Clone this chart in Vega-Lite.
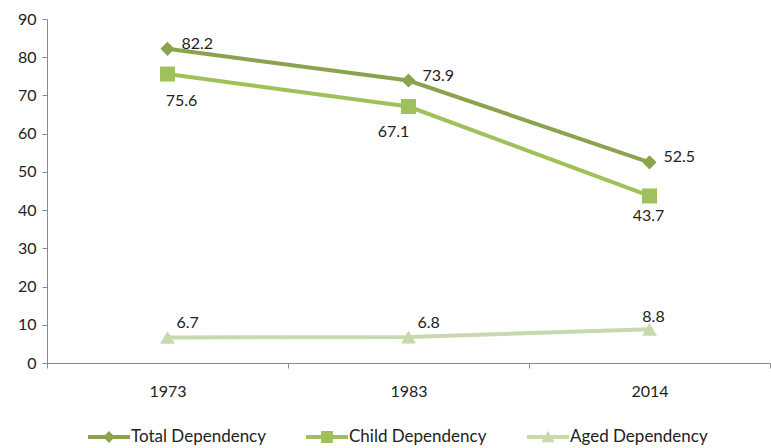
{
  "$schema": "https://vega.github.io/schema/vega-lite/v6.json",
  "width": 723,
  "height": 344,
  "autosize": "none",
  "padding": {"left": 47, "top": 19, "right": 1, "bottom": 85},
  "background": "white",
  "config": {"view": {"stroke": null}, "font": "Lato", "text": {"font": "Lato"}},
  "data": {
    "values": [
      {"year": "1973", "series": "Total Dependency", "value": 82.2},
      {"year": "1983", "series": "Total Dependency", "value": 73.9},
      {"year": "2014", "series": "Total Dependency", "value": 52.5},
      {"year": "1973", "series": "Child Dependency", "value": 75.6},
      {"year": "1983", "series": "Child Dependency", "value": 67.1},
      {"year": "2014", "series": "Child Dependency", "value": 43.7},
      {"year": "1973", "series": "Aged Dependency", "value": 6.7},
      {"year": "1983", "series": "Aged Dependency", "value": 6.8},
      {"year": "2014", "series": "Aged Dependency", "value": 8.8}
    ]
  },
  "encoding": {
    "x": {
      "field": "year", "type": "nominal", "sort": ["1973", "1983", "2014"],
      "scale": {"paddingInner": 0, "paddingOuter": 0},
      "axis": {"title": null, "labelAngle": 0, "labelFontSize": 16, "labelColor": "#222", "domainColor": "#8a8a8a", "tickColor": "#8a8a8a", "tickSize": 5, "tickBand": "extent", "labelPadding": 15}
    },
    "y": {
      "field": "value", "type": "quantitative",
      "scale": {"domain": [0, 90], "nice": false},
      "axis": {"title": null, "grid": false, "values": [0, 10, 20, 30, 40, 50, 60, 70, 80, 90], "labelFontSize": 16, "labelColor": "#222", "domainColor": "#8a8a8a", "tickColor": "#8a8a8a", "tickSize": 5, "labelPadding": 6}
    }
  },
  "resolve": {"scale": {"color": "independent", "shape": "independent"}},
  "layer": [
    {
      "mark": {"type": "line", "strokeWidth": 4},
      "encoding": {"color": {"field": "series", "type": "nominal", "scale": {"domain": ["Total Dependency", "Child Dependency", "Aged Dependency"], "range": ["#8ba24e", "#9fc05a", "#c9d9ae"]}, "legend": null}}
    },
    {
      "transform": [{"filter": "datum.series === 'Total Dependency'"}],
      "mark": {"type": "point", "shape": "diamond", "filled": true, "size": 200, "opacity": 1, "color": "#8ba24e"}
    },
    {
      "transform": [{"filter": "datum.series === 'Child Dependency'"}],
      "mark": {"type": "point", "shape": "square", "filled": true, "size": 225, "opacity": 1, "color": "#9fc05a"}
    },
    {
      "transform": [{"filter": "datum.series === 'Aged Dependency'"}],
      "mark": {"type": "point", "shape": "triangle-up", "filled": true, "size": 220, "opacity": 1, "color": "#c9d9ae"}
    },
    {
      "mark": {"type": "point", "filled": true, "opacity": 0},
      "encoding": {
        "shape": {
          "field": "series", "type": "nominal",
          "scale": {"domain": ["Total Dependency", "Child Dependency", "Aged Dependency"],
            "range": [
              "M-1,-0.1H1V0.1H-1Z M0,-0.28L0.28,0L0,0.28L-0.28,0Z",
              "M-1,-0.1H1V0.1H-1Z M-0.28,-0.28H0.28V0.28H-0.28Z",
              "M-1,-0.1H1V0.1H-1Z M0,-0.3L0.32,0.25H-0.32Z"
            ]},
          "legend": {
            "title": null, "orient": "none", "legendX": 41, "legendY": 397, "direction": "horizontal",
            "labelFontSize": 17, "labelColor": "#222", "symbolSize": 1764, "symbolStrokeWidth": 0,
            "columnPadding": 40, "labelOffset": 1,
            "encode": {"symbols": {"update": {"opacity": {"value": 1}}}}
          }
        },
        "color": {
          "field": "series", "type": "nominal",
          "scale": {"domain": ["Total Dependency", "Child Dependency", "Aged Dependency"], "range": ["#8ba24e", "#9fc05a", "#c9d9ae"]},
          "legend": {
            "title": null, "orient": "none", "legendX": 41, "legendY": 397, "direction": "horizontal",
            "labelFontSize": 17, "labelColor": "#222", "symbolSize": 1764, "symbolStrokeWidth": 0,
            "columnPadding": 40, "labelOffset": 1,
            "encode": {"symbols": {"update": {"opacity": {"value": 1}}}}
          }
        }
      }
    },
    {"transform": [{"filter": "datum.series === 'Total Dependency'"}], "mark": {"type": "text", "align": "left", "dx": 14, "dy": -5, "fontSize": 16, "color": "#222"}, "encoding": {"text": {"field": "value", "format": ".1f"}}},
    {"transform": [{"filter": "datum.series === 'Child Dependency' && datum.year === '1973'"}], "mark": {"type": "text", "align": "center", "dx": 14, "dy": 27, "fontSize": 16, "color": "#222"}, "encoding": {"text": {"field": "value", "format": ".1f"}}},
    {"transform": [{"filter": "datum.series === 'Child Dependency' && datum.year === '1983'"}], "mark": {"type": "text", "align": "center", "dx": -15, "dy": 25, "fontSize": 16, "color": "#222"}, "encoding": {"text": {"field": "value", "format": ".1f"}}},
    {"transform": [{"filter": "datum.series === 'Child Dependency' && datum.year === '2014'"}], "mark": {"type": "text", "align": "center", "dx": -1, "dy": 20, "fontSize": 16, "color": "#222"}, "encoding": {"text": {"field": "value", "format": ".1f"}}},
    {"transform": [{"filter": "datum.series === 'Aged Dependency' && datum.year !== '2014'"}], "mark": {"type": "text", "align": "left", "dx": 9, "dy": -14, "fontSize": 16, "color": "#222"}, "encoding": {"text": {"field": "value", "format": ".1f"}}},
    {"transform": [{"filter": "datum.series === 'Aged Dependency' && datum.year === '2014'"}], "mark": {"type": "text", "align": "center", "dx": 4, "dy": -12, "fontSize": 16, "color": "#222"}, "encoding": {"text": {"field": "value", "format": ".1f"}}}
  ]
}
